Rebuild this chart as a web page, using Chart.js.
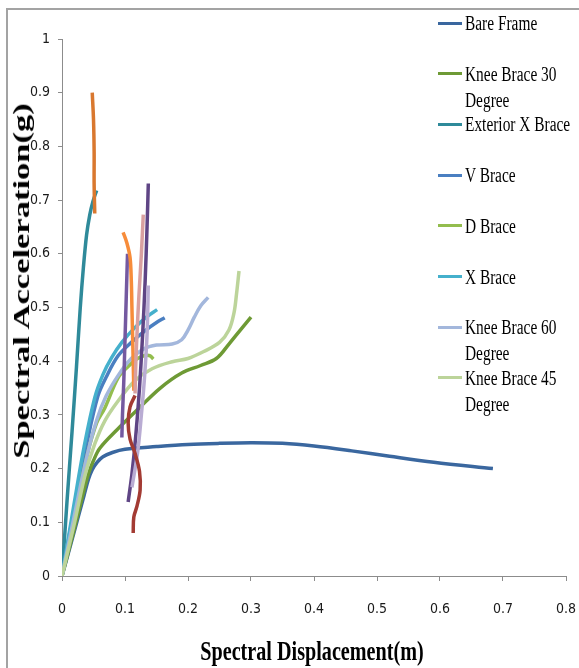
<!DOCTYPE html>
<html lang="en">
<head>
<meta charset="UTF-8">
<title>Spectral Acceleration vs Spectral Displacement</title>
<script src="https://cdn.jsdelivr.net/npm/chart.js@4"></script>
<style>
    body { margin: 0; background: #fff; }
    #wrap { position: relative; width: 579px; height: 668px; overflow: hidden; background: #fff; }
    #frame { position: absolute; left: 6px; top: 8px; right: -4px; bottom: -4px;
             border-left: 2px solid #a3a3a3; border-top: 2px solid #a3a3a3; }
    canvas { position: absolute; left: 0; top: 0; }
    .title { position: absolute; font-family: "Liberation Serif", "Times New Roman", serif;
             font-weight: bold; white-space: nowrap; color: #000; }
    #xTitle { left: 312px; top: 651px; font-size: 28px; transform: translate(-50%, -50%) scaleX(0.72); }
    #yTitle { left: 22px; top: 281px; font-size: 23px; transform: translate(-50%, -50%) rotate(-90deg) scaleX(1.5); }
    .lg-line { position: absolute; left: 438px; width: 24px; height: 3px; }
    .lg-text { position: absolute; left: 465px; width: 140px; font-family: "Liberation Serif", "Times New Roman", serif;
               font-size: 20px; line-height: 26px; color: #000; transform: scaleX(0.77); transform-origin: left top; }
</style>
</head>
<body>
<div id="wrap">
    <div id="frame"></div>
    <canvas id="chart" width="579" height="668"></canvas>
    <div class="title" id="yTitle">Spectral Acceleration(g)</div>
    <div class="title" id="xTitle">Spectral Displacement(m)</div>
    <div id="legend"></div>
</div>

<script>
    // --- data: [spectral displacement (m), spectral acceleration (g)] ---
    const bareFrame = [[0,0],[0.02,0.085],[0.035,0.15],[0.042,0.18],[0.048,0.198],[0.056,0.212],[0.065,0.222],[0.08,0.23],
        [0.1,0.236],[0.15,0.241],[0.2,0.245],[0.25,0.247],[0.3,0.248],[0.35,0.247],[0.4,0.242],[0.46,0.233],[0.52,0.223],[0.59,0.212],[0.684,0.2]];
    const kneeBrace30 = [[0,0],[0.02,0.09],[0.035,0.16],[0.042,0.19],[0.05,0.215],[0.06,0.238],[0.087,0.272],[0.12,0.31],
        [0.156,0.35],[0.19,0.378],[0.22,0.392],[0.245,0.405],[0.265,0.432],[0.283,0.458],[0.3,0.482]];
    const exteriorXBrace = [[0,0],[0.008,0.14],[0.016,0.27],[0.023,0.39],[0.029,0.5],[0.034,0.575],[0.039,0.635],[0.044,0.672],[0.049,0.697],[0.055,0.718]];
    const vBrace = [[0,0],[0.02,0.13],[0.04,0.25],[0.057,0.335],[0.07,0.37],[0.089,0.41],[0.11,0.435],[0.132,0.457],[0.15,0.472],[0.163,0.481]];
    const dBrace = [[0,0],[0.02,0.115],[0.04,0.225],[0.055,0.285],[0.068,0.313],[0.089,0.369],[0.105,0.39],[0.12,0.405],[0.133,0.411],[0.14,0.41],[0.145,0.404]];
    const xBrace = [[0,0],[0.02,0.14],[0.035,0.24],[0.052,0.332],[0.065,0.375],[0.079,0.407],[0.095,0.435],[0.116,0.463],[0.135,0.483],[0.151,0.496]];
    const kneeBrace60 = [[0,0],[0.02,0.115],[0.04,0.225],[0.055,0.29],[0.07,0.335],[0.09,0.375],[0.11,0.405],[0.13,0.423],[0.15,0.43],
        [0.175,0.432],[0.19,0.44],[0.2,0.458],[0.21,0.482],[0.22,0.503],[0.232,0.519]];
    const kneeBrace45 = [[0,0],[0.02,0.1],[0.037,0.19],[0.052,0.246],[0.068,0.289],[0.089,0.326],[0.116,0.364],[0.143,0.386],[0.175,0.399],
        [0.2,0.405],[0.225,0.418],[0.25,0.435],[0.265,0.458],[0.273,0.49],[0.277,0.525],[0.281,0.568]];

    // series whose legend entries are cut off in the original
    const orangeDark = [[0.048,0.9],[0.05,0.85],[0.051,0.79],[0.051,0.73],[0.052,0.675]];
    const purpleA = [[0.104,0.6],[0.102,0.52],[0.1,0.44],[0.098,0.36],[0.096,0.3],[0.095,0.258]];
    const orangeBright = [[0.097,0.64],[0.103,0.62],[0.108,0.593],[0.11,0.55],[0.111,0.5],[0.112,0.45],[0.113,0.4],[0.114,0.345]];
    const pink = [[0.129,0.673],[0.126,0.6],[0.122,0.52],[0.119,0.45],[0.117,0.39],[0.116,0.34]];
    const purpleB = [[0.137,0.731],[0.135,0.65],[0.132,0.55],[0.128,0.45],[0.123,0.35],[0.117,0.26],[0.111,0.19],[0.105,0.138]];
    const lavender = [[0.137,0.541],[0.135,0.45],[0.131,0.37],[0.126,0.3],[0.12,0.23],[0.111,0.165]];
    const darkRed = [[0.116,0.336],[0.108,0.315],[0.105,0.285],[0.108,0.255],[0.116,0.228],[0.123,0.195],[0.124,0.16],[0.119,0.13],[0.114,0.11],[0.113,0.08]];

    const seriesNames = ['Bare Frame', 'Knee Brace 30 Degree', 'Exterior X Brace', 'V Brace', 'D Brace', 'X Brace', 'Knee Brace 60 Degree', 'Knee Brace 45 Degree'];
    const namedSeries = [bareFrame, kneeBrace30, exteriorXBrace, vBrace, dBrace, xBrace, kneeBrace60, kneeBrace45];
    const namedColors = ['#3a679f', '#6e9a35', '#2f8a9a', '#4a7fc1', '#93bd4e', '#45b0cc', '#a3b7dc', '#bcd49a'];
    const extraSeries = [orangeDark, purpleA, orangeBright, pink, purpleB, lavender, darkRed];
    const extraColors = ['#d9782f', '#7459a0', '#f78c3a', '#d9a0a0', '#5f4585', '#b9acd3', '#a33b33'];

    const xTicks = { min: 0, max: 0.8, step: 0.1 };
    const yTicks = { min: 0, max: 1, step: 0.1 };

    function makeSet(pts, color, label, order) {
        return {
            label: label,
            data: pts.map(p => ({ x: p[0], y: p[1] })),
            showLine: true,
            borderColor: color,
            backgroundColor: color,
            borderWidth: 3.5,
            pointRadius: 0,
            tension: 0.35,
            fill: false,
            order: order
        };
    }

    const datasets = [];
    namedSeries.forEach((pts, i) => datasets.push(makeSet(pts, namedColors[i], seriesNames[i], 100 - i)));
    extraSeries.forEach((pts, i) => datasets.push(makeSet(pts, extraColors[i], '', 50 - i)));

    const tickFont = { family: '"Liberation Sans Narrow", "DejaVu Sans Condensed", "Liberation Sans", sans-serif', size: 14 };
    const fmt = v => Number(v.toFixed(1)).toString();

    new Chart(document.getElementById('chart').getContext('2d'), {
        type: 'scatter',
        data: { datasets: datasets },
        options: {
            responsive: false,
            animation: false,
            layout: { padding: { top: 39, right: 13, left: 0, bottom: 0 } },
            plugins: { legend: { display: false }, tooltip: { enabled: false } },
            scales: {
                x: {
                    type: 'linear', min: xTicks.min, max: xTicks.max,
                    ticks: { stepSize: xTicks.step, callback: fmt, font: tickFont, color: '#1a1a1a', padding: 20, maxRotation: 0 },
                    grid: { drawOnChartArea: false, drawTicks: true, tickLength: 5, color: '#8c8c8c' },
                    border: { color: '#8c8c8c' },
                    afterFit: s => { s.height = 92; s.paddingLeft = 0; s.paddingRight = 0; }
                },
                y: {
                    type: 'linear', min: yTicks.min, max: yTicks.max,
                    ticks: { stepSize: yTicks.step, callback: fmt, font: tickFont, color: '#1a1a1a', padding: 8 },
                    grid: { drawOnChartArea: false, drawTicks: true, tickLength: 4, color: '#8c8c8c' },
                    border: { color: '#8c8c8c' },
                    afterFit: s => { s.width = 62; s.paddingTop = 0; s.paddingBottom = 0; }
                }
            }
        }
    });

    // legend (right side, overlapping the plot like the original)
    const legend = document.getElementById('legend');
    seriesNames.forEach((name, i) => {
        const cy = 23 + i * 50.7;
        const line = document.createElement('div');
        line.className = 'lg-line';
        line.style.top = (cy - 1.5) + 'px';
        line.style.background = namedColors[i];
        legend.appendChild(line);
        const txt = document.createElement('div');
        txt.className = 'lg-text';
        txt.style.top = (cy - 13) + 'px';
        txt.textContent = name;
        legend.appendChild(txt);
    });
</script>
</body>
</html>
